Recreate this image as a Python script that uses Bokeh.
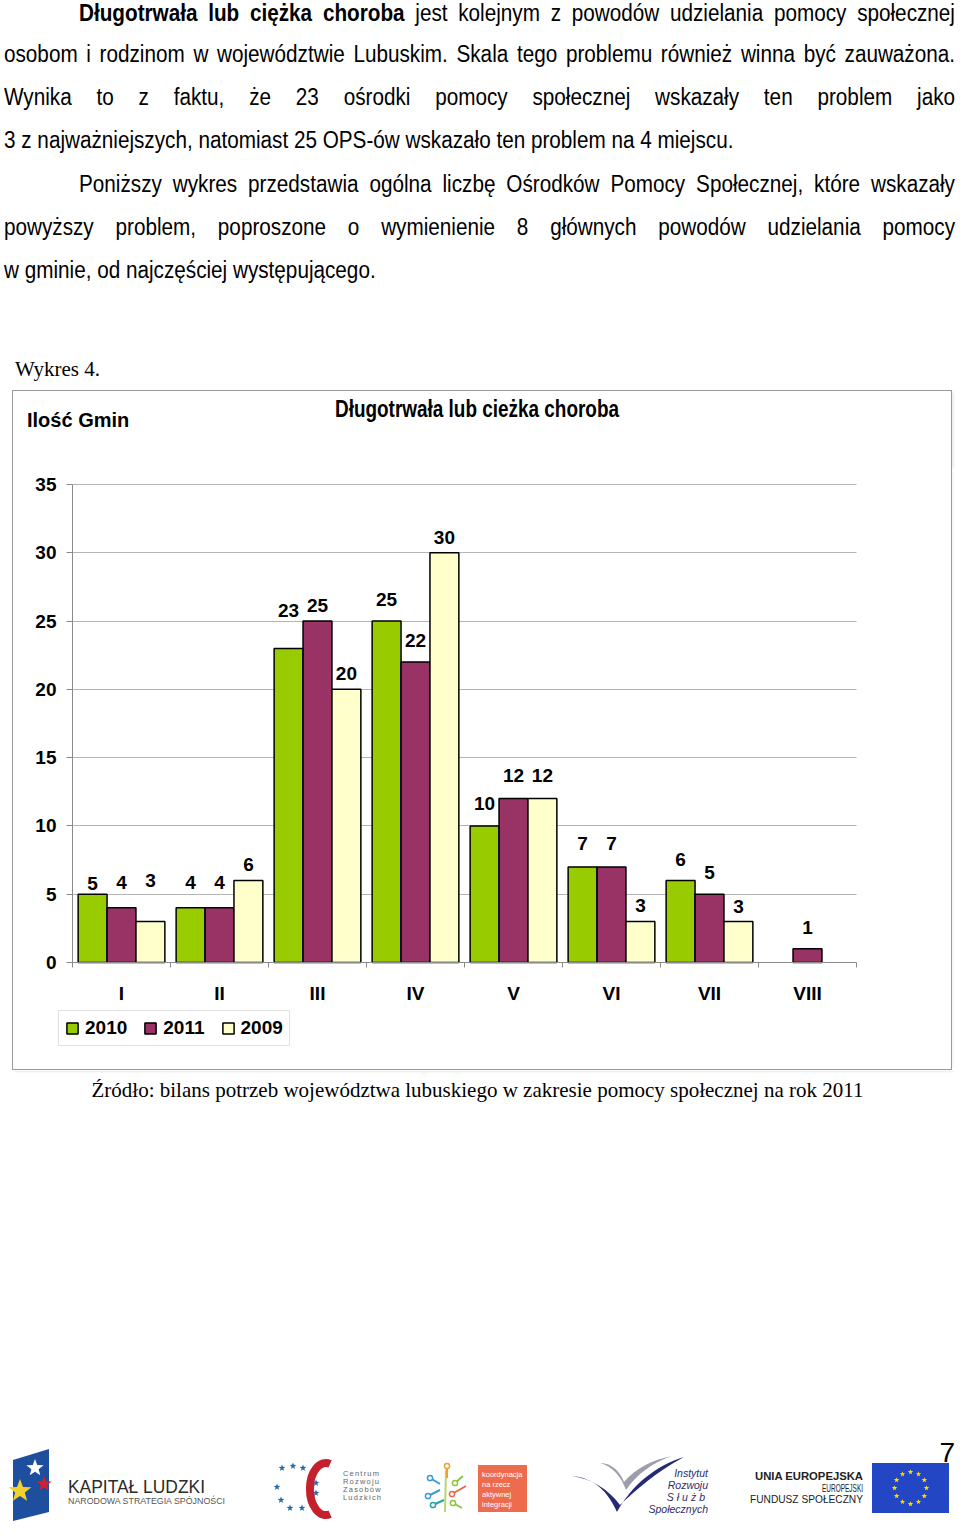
import math
from bokeh.plotting import figure
from bokeh.models import (ColumnDataSource, FixedTicker, Legend, LegendItem,
                          Div, Range1d, CustomJSTickFormatter)
from bokeh.layouts import column
from bokeh.embed import file_html
from bokeh.resources import INLINE
from bokeh.core.properties import value

# ---------------- data ----------------
categories = ["I", "II", "III", "IV", "V", "VI", "VII", "VIII"]
series_names = ["2010", "2011", "2009"]
values_2010 = [5, 4, 23, 25, 10, 7, 6, None]
values_2011 = [4, 4, 25, 22, 12, 7, 5, 1]
values_2009 = [3, 6, 20, 30, 12, 3, 3, None]
y_ticks = [0, 5, 10, 15, 20, 25, 30, 35]

chart_title = "Długotrwała lub cieżka choroba"
y_title = "Ilość Gmin"
caption = "Wykres 4."
source_note = "Źródło: bilans potrzeb województwa lubuskiego w zakresie pomocy społecznej na rok 2011"
paragraph_lines = [
    "<b>Długotrwała lub ciężka choroba</b> jest kolejnym z powodów udzielania pomocy społecznej",
    "osobom i rodzinom w województwie Lubuskim. Skala tego problemu również winna być zauważona.",
    "Wynika to z faktu, że 23 ośrodki pomocy społecznej wskazały ten problem jako",
    "3 z najważniejszych, natomiast 25 OPS-ów wskazało ten problem na 4 miejscu.",
    "Poniższy wykres przedstawia ogólna liczbę Ośrodków Pomocy Społecznej, które wskazały",
    "powyższy problem, poproszone o wymienienie 8 głównych powodów udzielania pomocy",
    "w gminie, od najczęściej występującego.",
]

# ---------------- styling / layout ----------------
FONT = "Liberation Sans"
SERIF = "Liberation Serif"
colors = ["#99CC00", "#993366", "#FFFFCC"]
# how far (px) each value label sits above its bar, as placed in the original
label_lift = [[11, 25, 38, 22, 22, 23, 21, 21],
              [25, 25, 16, 22, 23, 23, 22, 21],
              [41, 16, 16, 15, 23, 16, 15, 21]]
line_layout = [  # (left, right, baseline, justified)
    (79, 955, 21, True), (4, 955, 62, True), (4, 955, 105, True), (4, 955, 148, False),
    (79, 955, 192, True), (4, 955, 235, True), (4, 955, 278, False)]
BOX = "#9a9a9a"

# page geometry of the chart figure and of its plotting area (pixels)
FIG_L, FIG_T, FIG_W, FIG_H = 13, 470, 938, 599
AX_L, AX_R, AX_T, AX_B = 72, 856, 484, 962      # x: 0..8, y: 0..35
px_x = (AX_R - AX_L) / len(categories)
px_y = (AX_B - AX_T) / y_ticks[-1]
x_start = -(AX_L - FIG_L) / px_x
x_end = len(categories) + (FIG_L + FIG_W - AX_R) / px_x
y_start = -(FIG_T + FIG_H - AX_B) / px_y
y_end = y_ticks[-1] + (AX_T - FIG_T) / px_y

# ---------------- top text + top of the chart box ----------------
SC = 0.90
parts = ['<div style="position:relative;width:960px;height:470px;overflow:hidden;background:white;">']
for txt, (l, r, b, just) in zip(paragraph_lines, line_layout):
    w = (r - l) / SC if just else 1100
    align = "text-align:justify;text-align-last:justify;" if just else "text-align:left;"
    parts.append(
        f'<div style="position:absolute;left:{l}px;top:{b-21}px;width:{w:.1f}px;'
        f'transform:scaleX({SC});transform-origin:0 0;font-family:\'{FONT}\';font-size:23px;'
        f'line-height:26px;color:#000;{align}">{txt}</div>')
parts.append(f'<div style="position:absolute;left:15px;top:357px;font-family:\'{SERIF}\';'
             f'font-size:21px;line-height:24px;color:#000;white-space:nowrap;">{caption}</div>')
parts.append(f'<div style="position:absolute;left:12px;top:390px;width:940px;height:80px;box-sizing:border-box;'
             f'border-top:1px solid {BOX};border-left:1px solid {BOX};border-right:1px solid {BOX};'
             f'box-shadow:3px 0 3px -2px rgba(0,0,0,0.12);"></div>')
parts.append(f'<div style="position:absolute;left:27px;top:408px;font-family:\'{FONT}\';font-weight:bold;'
             f'font-size:20px;line-height:24px;color:#000;white-space:nowrap;">{y_title}</div>')
parts.append(f'<div style="position:absolute;left:335px;top:396px;font-family:\'{FONT}\';font-weight:bold;'
             f'font-size:23px;line-height:26px;color:#000;white-space:nowrap;transform:scaleX(0.823);'
             f'transform-origin:0 0;">{chart_title}</div>')
parts.append('</div>')
top_div = Div(text="".join(parts), width=960, height=470, margin=0)

# ---------------- chart ----------------
p = figure(width=FIG_W, height=FIG_H, x_range=Range1d(x_start, x_end), y_range=Range1d(y_start, y_end),
           output_backend="svg", toolbar_location=None,
           min_border_left=0, min_border_right=0, min_border_top=0, min_border_bottom=0)
p.margin = (0, 960 - FIG_L - FIG_W, 0, FIG_L)
p.styles = {"box-shadow": f"-1px 0 0 {BOX}, 1px 0 0 {BOX}, 3px 0 3px -2px rgba(0,0,0,0.12)"}
p.outline_line_color = None
p.background_fill_color = "white"
p.border_fill_color = "white"

series_values = [values_2010, values_2011, values_2009]
offsets = [-0.295, 0.0, 0.295]
bar_w = 0.295
items = []
for k in range(3):
    xs, tops, txt, dy = [], [], [], []
    for i, v in enumerate(series_values[k]):
        if v is None:
            continue
        xs.append(i + 0.5 + offsets[k])
        tops.append(v)
        txt.append(str(v))
        dy.append(-label_lift[k][i])
    src = ColumnDataSource(dict(x=xs, top=tops, label=txt, dy=dy))
    r = p.vbar(x="x", top="top", bottom=0, width=bar_w, source=src,
               fill_color=colors[k], line_color="black", line_width=1.5)
    p.text(x="x", y="top", text="label", y_offset="dy", source=src,
           text_align="center", text_baseline="middle", text_font=value(FONT),
           text_font_style="bold", text_font_size="19px", text_color="black")
    items.append(LegendItem(label=series_names[k], renderers=[r]))

# axes (drawn at the data origin inside the plotting area)
p.yaxis.fixed_location = 0
p.yaxis.bounds = (0, y_ticks[-1])
p.yaxis.ticker = FixedTicker(ticks=y_ticks)
p.ygrid.ticker = FixedTicker(ticks=y_ticks)
p.ygrid.cross_bounds = (0, len(categories))
p.ygrid.grid_line_color = "#b5b5b5"
p.xgrid.visible = False
p.yaxis.axis_line_color = "#8a8a8a"
p.yaxis.major_tick_line_color = "#8a8a8a"
p.yaxis.major_tick_out = 6
p.yaxis.major_tick_in = 0
p.yaxis.minor_tick_line_color = None
p.yaxis.major_label_standoff = 10

p.xaxis.fixed_location = 0
p.xaxis.bounds = (0, len(categories))
p.xaxis.ticker = FixedTicker(ticks=[i + 0.5 for i in range(len(categories))],
                             minor_ticks=list(range(len(categories) + 1)))
p.xaxis.formatter = CustomJSTickFormatter(args=dict(cats=categories),
                                          code="return cats[Math.floor(tick)] || '';")
p.xaxis.axis_line_color = "#8a8a8a"
p.xaxis.major_tick_out = 0
p.xaxis.major_tick_in = 0
p.xaxis.minor_tick_out = 5
p.xaxis.minor_tick_in = 0
p.xaxis.minor_tick_line_color = "#8a8a8a"
p.xaxis.major_label_standoff = 15

for ax in (p.xaxis, p.yaxis):
    ax.major_label_text_font = FONT
    ax.major_label_text_font_size = "19px"
    ax.major_label_text_font_style = "bold"
    ax.major_label_text_color = "black"

# legend: bottom-left corner at page (58, 1046)
legend = Legend(items=items, location=(58 - FIG_L, FIG_T + FIG_H - 1046), orientation="horizontal",
                glyph_width=14, glyph_height=14, label_standoff=6, spacing=16,
                padding=6, margin=0, border_line_color="#c4c4c4", border_line_width=1,
                background_fill_color="white", background_fill_alpha=1,
                label_text_font=FONT, label_text_font_size="19px",
                label_text_font_style="bold", label_text_color="black")
p.add_layout(legend)

# ---------------- bottom text & logos ----------------
def star(cx, cy, r, inner=0.42):
    pts = []
    for k in range(10):
        a = -math.pi / 2 + k * math.pi / 5
        rr = r if k % 2 == 0 else r * inner
        pts.append(f"{cx + rr*math.cos(a):.1f},{cy + rr*math.sin(a):.1f}")
    return " ".join(pts)

svg = []
svg.append('<svg xmlns="http://www.w3.org/2000/svg" width="960" height="110" '
           'style="position:absolute;left:0;top:361px;"><g transform="translate(0,-1430)">')
# Kapitał Ludzki
svg.append('<polygon points="13,1460 49,1449 49,1512 13,1521" fill="#1d4f9e"/>')
svg.append(f'<polygon points="{star(35,1468,9)}" fill="white"/>')
svg.append(f'<polygon points="{star(44,1484,8)}" fill="#cf2230"/>')
svg.append(f'<polygon points="{star(20,1491,12)}" fill="#f4d02e"/>')
svg.append(f'<text x="68" y="1493" font-family="{FONT}" font-size="18" fill="#2b2b2b" '
           'textLength="137" lengthAdjust="spacingAndGlyphs">KAPITAŁ LUDZKI</text>')
svg.append(f'<text x="68" y="1504" font-family="{FONT}" font-size="9" fill="#555" '
           'textLength="157" lengthAdjust="spacingAndGlyphs">NARODOWA STRATEGIA SPÓJNOŚCI</text>')
# Centrum Rozwoju Zasobów Ludzkich
for (sx, sy) in [(282, 1468), (293, 1466), (303, 1468), (277, 1487), (281, 1500),
                 (290, 1508), (302, 1508), (316, 1483), (316, 1493)]:
    svg.append(f'<polygon points="{star(sx, sy, 3.6)}" fill="#2a6aa6"/>')
svg.append('<path d="M330.1,1463.9 A16,26 0 1 0 330.1,1514.1" fill="none" stroke="#c4202e" stroke-width="8"/>')
for j, w in enumerate(["Centrum", "Rozwoju", "Zasobów", "Ludzkich"]):
    svg.append(f'<text x="343" y="{1476 + 8*j}" font-family="{FONT}" font-size="7.5" '
               f'letter-spacing="1.2" fill="#666">{w}</text>')
# koordynacja
svg.append('<line x1="445" y1="1512" x2="446" y2="1470" stroke="#b9d66d" stroke-width="2"/>')
for (x1, y1, x2, y2, c) in [(430, 1478, 440, 1484, "#3a9bd5"), (447, 1466, 447, 1478, "#f0a030"),
                            (455, 1483, 463, 1476, "#8cc63f"), (428, 1496, 440, 1490, "#3a9bd5"),
                            (452, 1494, 466, 1486, "#e86a4a"), (433, 1505, 444, 1500, "#27a3a3"),
                            (453, 1503, 462, 1508, "#8cc63f")]:
    svg.append(f'<line x1="{x1}" y1="{y1}" x2="{x2}" y2="{y2}" stroke="{c}" stroke-width="2"/>')
    svg.append(f'<circle cx="{x1}" cy="{y1}" r="2.6" fill="white" stroke="{c}" stroke-width="1.5"/>')
svg.append('<rect x="478" y="1465" width="49" height="47" fill="#ee6c4d"/>')
for j, w in enumerate(["koordynacja", "na rzecz", "aktywnej", "integracji"]):
    svg.append(f'<text x="482" y="{1477 + 10*j}" font-family="{FONT}" font-size="7.5" fill="white">{w}</text>')
# Instytut Rozwoju Służb Społecznych
svg.append('<path d="M600,1463 C612,1463 620,1472 624,1482 C636,1468 652,1460 672,1456 '
           'C652,1463 637,1474 626,1490 C621,1476 612,1466 600,1463 Z" fill="#9d9dab"/>')
svg.append('<path d="M572,1476 C595,1478 608,1492 617,1512 C632,1485 655,1466 684,1457 '
           'C656,1472 636,1490 620,1505 C608,1489 592,1479 572,1476 Z" fill="#262a72"/>')
for j, (w, ls) in enumerate([("Instytut", 0), ("Rozwoju", 0), ("Służb", 3), ("Społecznych", 0)]):
    svg.append(f'<text x="708" y="{1477 + 12*j}" text-anchor="end" font-family="{SERIF}" '
               f'font-style="italic" font-size="10.5" letter-spacing="{ls}" fill="#2d2d6b">{w}</text>')
# UE
svg.append(f'<text x="863" y="1480" text-anchor="end" font-family="{FONT}" font-weight="bold" '
           'font-size="11" fill="#222" textLength="108" lengthAdjust="spacingAndGlyphs">UNIA EUROPEJSKA</text>')
svg.append(f'<text x="863" y="1492" text-anchor="end" font-family="{FONT}" font-size="10.5" fill="#222" '
           'textLength="41" lengthAdjust="spacingAndGlyphs">EUROPEJSKI</text>')
svg.append(f'<text x="863" y="1503" text-anchor="end" font-family="{FONT}" font-size="10.5" fill="#222" '
           'textLength="113" lengthAdjust="spacingAndGlyphs">FUNDUSZ SPOŁECZNY</text>')
svg.append('<rect x="872" y="1463" width="77" height="50" fill="#2347c4"/>')
for k in range(12):
    a = k * math.pi / 6
    svg.append(f'<polygon points="{star(910.5 + 16*math.cos(a), 1488 + 16*math.sin(a), 2.8)}" fill="#ffdd00"/>')
svg.append(f'<text x="955" y="1462" text-anchor="end" font-family="{SERIF}" font-size="28" fill="#000">7</text>')
svg.append('</g></svg>')

bottom_html = ('<div style="position:relative;width:960px;height:471px;overflow:hidden;background:white;">'
               f'<div style="position:absolute;left:12px;top:0;width:940px;height:1px;background:{BOX};'
               f'box-shadow:2px 2px 2px rgba(0,0,0,0.12);"></div>'
               f'<div style="position:absolute;left:0;top:9px;width:955px;text-align:center;'
               f'font-family:\'{SERIF}\';font-size:21px;line-height:24px;color:#000;white-space:nowrap;">'
               f'{source_note}</div>' + "".join(svg) + '</div>')
bottom_div = Div(text=bottom_html, width=960, height=471, margin=0)

layout = column(top_div, p, bottom_div, spacing=0)

open("out.html", "w").write(file_html(layout, INLINE))
